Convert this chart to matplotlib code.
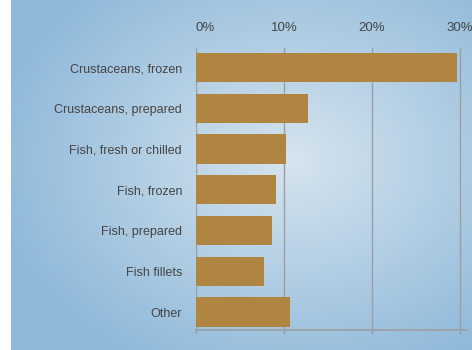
import numpy as np
import matplotlib
matplotlib.use('Agg')
import matplotlib.pyplot as plt

# 数据
categories = ['Crustaceans, frozen', 'Crustaceans, prepared', 'Fish, fresh or chilled',
              'Fish, frozen', 'Fish, prepared', 'Fish fillets', 'Other']
shares = [29.7, 12.7, 10.2, 9.1, 8.6, 7.7, 10.7]
tick_vals = [0, 10, 20, 30]
tick_labels = ['0%', '10%', '20%', '30%']

plt.rcParams['font.family'] = ['Liberation Sans', 'DejaVu Sans']

fig = plt.figure(figsize=(4.72, 3.5), dpi=100)

# 背景：径向渐变
bg = fig.add_axes([11 / 472, 0, 1 - 11 / 472, 1])
h, w = 350, 461
yy, xx = np.mgrid[0:h, 0:w]
cx, cy = 280, 160
r = np.sqrt(((xx - cx) / 300) ** 2 + ((yy - cy) / 230) ** 2)
r = np.clip(r, 0, 1)
inner = np.array([214, 228, 238]) / 255
outer = np.array([143, 185, 218]) / 255
img = inner[None, None, :] * (1 - r[..., None]) + outer[None, None, :] * r[..., None]
bg.imshow(img, aspect='auto', extent=[0, 1, 0, 1])
bg.axis('off')

ax = fig.add_axes([196 / 472, 1 - 330 / 350, 271 / 472, (330 - 48) / 350])
ax.patch.set_alpha(0)
y = np.arange(len(categories))
ax.barh(y, shares, height=0.72, color='#b08542', zorder=3)
ax.set_ylim(len(categories) - 1 + 0.44, -0.48)
ax.set_xlim(0, 30.8)

ax.set_xticks(tick_vals)
ax.set_xticklabels(tick_labels)
ax.xaxis.tick_top()
ax.tick_params(axis='x', length=0, pad=10, labelsize=9.5, labelcolor='#454545')
ax.get_xticklabels()[0].set_ha('left')
ax.set_yticks(y)
ax.set_yticklabels(categories)
ax.tick_params(axis='y', length=0, pad=10, labelsize=9, labelcolor='#454545')

for v in tick_vals:
    ax.axvline(v, color='#9a9fa5', lw=1, zorder=2)
    ax.plot([v, v], [len(categories) - 1 + 0.44, len(categories) - 1 + 0.52],
            color='#9a9fa5', lw=1, clip_on=False)

for s in ['top', 'right', 'left']:
    ax.spines[s].set_visible(False)
ax.spines['bottom'].set_color('#9a9fa5')
ax.spines['bottom'].set_linewidth(1.2)

fig.savefig('out.png', dpi=100)
